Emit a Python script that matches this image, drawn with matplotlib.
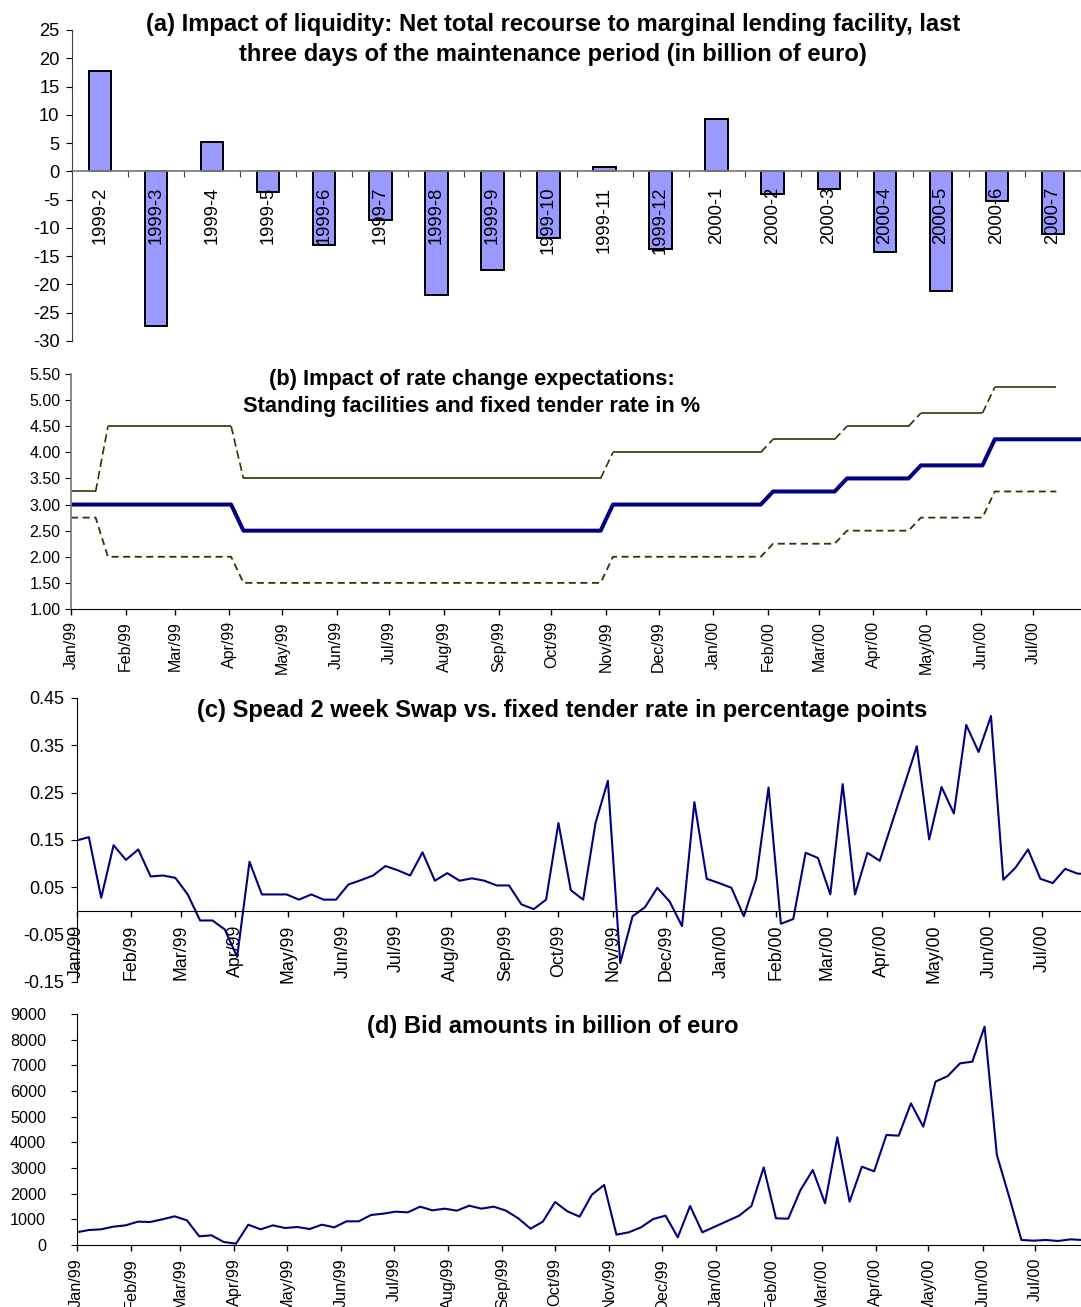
import matplotlib
matplotlib.use('Agg')
import matplotlib.pyplot as plt
import matplotlib.dates as mdates
from matplotlib.collections import LineCollection
from matplotlib.ticker import FormatStrFormatter
import numpy as np
import pandas as pd

plt.rcParams['font.family'] = ['Liberation Sans', 'DejaVu Sans']
plt.rcParams['axes.unicode_minus'] = False

# ---------------- data ----------------
# (a) net recourse to marginal lending facility (bn euro)
periods = ['1999-2', '1999-3', '1999-4', '1999-5', '1999-6', '1999-7', '1999-8',
           '1999-9', '1999-10', '1999-11', '1999-12', '2000-1', '2000-2', '2000-3',
           '2000-4', '2000-5', '2000-6', '2000-7']
recourse = [17.8, -27.3, 5.2, -3.7, -13.1, -8.6, -21.8, -17.5, -11.8, 0.7,
            -13.7, 9.3, -4.0, -3.2, -14.3, -21.2, -5.3, -11.0]

# (b) standing facilities and fixed tender rate (%)
corridor_dates = ['1999-01-01', '1999-01-15', '1999-01-22', '1999-04-02', '1999-04-09',
                  '1999-10-29', '1999-11-05', '2000-01-28', '2000-02-04', '2000-03-10',
                  '2000-03-17', '2000-04-21', '2000-04-28', '2000-06-02', '2000-06-09',
                  '2000-07-14']
marginal_rate = [3.25, 3.25, 4.50, 4.50, 3.50, 3.50, 4.00, 4.00, 4.25, 4.25,
                 4.50, 4.50, 4.75, 4.75, 5.25, 5.25]
deposit_rate = [2.75, 2.75, 2.00, 2.00, 1.50, 1.50, 2.00, 2.00, 2.25, 2.25,
                2.50, 2.50, 2.75, 2.75, 3.25, 3.25]
fixed_dates = ['1999-01-01', '1999-04-02', '1999-04-09', '1999-10-29', '1999-11-05',
               '2000-01-28', '2000-02-04', '2000-03-10', '2000-03-17', '2000-04-21',
               '2000-04-28', '2000-06-02', '2000-06-09', '2000-07-28']
fixed_rate = [3.00, 3.00, 2.50, 2.50, 3.00, 3.00, 3.25, 3.25, 3.50, 3.50,
              3.75, 3.75, 4.25, 4.25]

# (c) spread 2-week swap vs fixed tender rate, weekly from 1 Jan 1999
first_week = '1999-01-01'
spread = [0.149, 0.156, 0.028, 0.139, 0.108, 0.130, 0.073, 0.075, 0.070, 0.035,
          -0.020, -0.020, -0.039, -0.097, 0.104, 0.035, 0.035, 0.035, 0.024, 0.035,
          0.024, 0.024, 0.056, 0.065, 0.075, 0.095, 0.086, 0.075, 0.124, 0.064,
          0.080, 0.064, 0.069, 0.064, 0.054, 0.054, 0.014, 0.004, 0.024, 0.186,
          0.044, 0.024, 0.186, 0.275, -0.110, -0.011, 0.008, 0.049, 0.020, -0.032,
          0.230, 0.068, 0.059, 0.049, -0.011, 0.068, 0.261, -0.027, -0.017, 0.123,
          0.112, 0.035, 0.268, 0.035, 0.123, 0.106, 0.187, 0.267, 0.348, 0.151,
          0.262, 0.206, 0.393, 0.336, 0.412, 0.066, 0.092, 0.130, 0.068, 0.059,
          0.089, 0.079, 0.078]

# (d) bid amounts (bn euro), weekly from 1 Jan 1999
bids = [494, 584, 610, 714, 766, 909, 896, 1000, 1117, 961,
        338, 377, 117, 52, 792, 610, 766, 662, 701, 623,
        792, 688, 922, 922, 1169, 1221, 1299, 1273, 1494, 1351,
        1416, 1338, 1532, 1416, 1494, 1338, 1039, 636, 909, 1675,
        1312, 1104, 1961, 2338, 403, 494, 688, 1013, 1143, 299,
        1519, 494, 710, 926, 1143, 1519, 3026, 1039, 1026, 2143,
        2922, 1623, 4195, 1688, 3052, 2870, 4286, 4260, 5519, 4610,
        6364, 6584, 7078, 7143, 8506, 3506, 1883, 195, 169, 195,
        156, 221, 195]

# ---------------- figure ----------------
W, H = 1081, 1307
fig = plt.figure(figsize=(W / 100, H / 100), dpi=100)

NAVY = '#000080'
OLIVE = '#333300'
TITLE_FS = 17.1


def add_ax(left, top, bottom):
    return fig.add_axes([left / W, 1 - bottom / H, 1 - left / W, (bottom - top) / H])


def title(x, y, s, fs=TITLE_FS):
    fig.text(x / W, 1 - y / H, s, ha='center', va='center', fontsize=fs,
             fontweight='bold')


def date_xaxis(ax, ndays, pad, fs):
    start = pd.Timestamp('1999-01-01')
    ax.set_xlim(start, start + pd.Timedelta(days=ndays))
    ax.xaxis.set_major_locator(mdates.MonthLocator())
    ax.xaxis.set_major_formatter(mdates.DateFormatter('%b/%y'))
    ax.tick_params(axis='x', which='major', direction='out', length=4.3, width=1,
                   pad=pad, labelsize=fs, labelrotation=90)


# ----- (a) -----
ax = add_ax(72, 30, 341)
ax.set_axisbelow(False)
xa = np.arange(len(periods))
ax.bar(xa, recourse, width=0.4, color='#9999FF', edgecolor='black', linewidth=1.4,
       zorder=2)
ax.set_xlim(-0.5, len(periods) - 0.5)
ax.set_ylim(-30, 25)
ax.set_yticks(np.arange(-30, 26, 5))
ax.yaxis.set_major_formatter(FormatStrFormatter('%d'))
ax.spines['top'].set_visible(False)
ax.spines['right'].set_visible(False)
ax.spines['bottom'].set_position(('data', 0))
ax.spines['bottom'].set_color('#808080')
ax.spines['bottom'].set_linewidth(1.3)
ax.spines['left'].set_color('#404040')
ax.set_xticks(np.arange(0.5, len(periods), 1))
ax.set_xticklabels([])
ax.set_xticks(xa, minor=True)
ax.set_xticklabels(periods, minor=True)
ax.tick_params(axis='x', which='major', direction='out', length=4.5, color='#404040')
ax.tick_params(axis='x', which='minor', length=0, pad=11, labelsize=13.2,
               labelrotation=90)
ax.tick_params(axis='y', direction='out', length=4, pad=5, labelsize=13.2)
title(553, 24, '(a) Impact of liquidity: Net total recourse to marginal lending facility, last')
title(553, 54, 'three days of the maintenance period (in billion of euro)')

# ----- (b) -----
ax = add_ax(71, 374, 609)
cd = mdates.date2num(pd.to_datetime(corridor_dates))
segs, styles = [], []
for i in range(len(cd) - 1):
    segs.append([(cd[i], marginal_rate[i]), (cd[i + 1], marginal_rate[i + 1])])
    styles.append('solid' if marginal_rate[i] == marginal_rate[i + 1] else (0, (5, 2.5)))
ax.add_collection(LineCollection(segs, colors=OLIVE, linewidths=1.2, linestyles=styles))
ax.plot(pd.to_datetime(corridor_dates), deposit_rate, color=OLIVE, lw=1.3,
        linestyle=(0, (3.9, 2.5)))
ax.plot(pd.to_datetime(fixed_dates), fixed_rate, color=NAVY, lw=2.9)
ax.set_ylim(1.0, 5.5)
ax.set_yticks(np.arange(1.0, 5.51, 0.5))
ax.yaxis.set_major_formatter(FormatStrFormatter('%.2f'))
date_xaxis(ax, 574, 4.6, 11.5)
ax.spines['top'].set_visible(False)
ax.spines['right'].set_visible(False)
ax.spines['left'].set_color('#808080')
ax.spines['left'].set_linewidth(1.3)
ax.tick_params(axis='y', direction='out', length=4, pad=3.4, labelsize=11.5)
title(472, 379, '(b) Impact of rate change expectations:', fs=15.7)
title(472, 407, 'Standing facilities and fixed tender rate in %', fs=15.7)

weeks_c = pd.date_range(first_week, periods=len(spread), freq='7D')
weeks_d = pd.date_range(first_week, periods=len(bids), freq='7D')

# ----- (c) -----
ax = add_ax(76.5, 698, 982)
ax.plot(weeks_c, spread, color=NAVY, lw=1.5)
ax.set_ylim(-0.15, 0.45)
ax.set_yticks(np.arange(-0.15, 0.46, 0.1))
ax.yaxis.set_major_formatter(FormatStrFormatter('%.2f'))
date_xaxis(ax, 569, 5.5, 12.8)
ax.spines['top'].set_visible(False)
ax.spines['right'].set_visible(False)
ax.spines['bottom'].set_position(('data', 0))
ax.tick_params(axis='y', direction='out', length=4, pad=4.8, labelsize=13)
title(562, 711, '(c) Spead 2 week Swap vs. fixed tender rate in percentage points')

# ----- (d) -----
ax = add_ax(76.5, 1014, 1245)
ax.plot(weeks_d, bids, color=NAVY, lw=1.5)
ax.set_ylim(0, 9000)
ax.set_yticks(np.arange(0, 9001, 1000))
ax.yaxis.set_major_formatter(FormatStrFormatter('%d'))
date_xaxis(ax, 573, 5, 11.7)
ax.spines['top'].set_visible(False)
ax.spines['right'].set_visible(False)
ax.tick_params(axis='y', direction='out', length=4, pad=18, labelsize=11.7)
title(553, 1027, '(d) Bid amounts in billion of euro')

fig.savefig('out.png', dpi=100)
